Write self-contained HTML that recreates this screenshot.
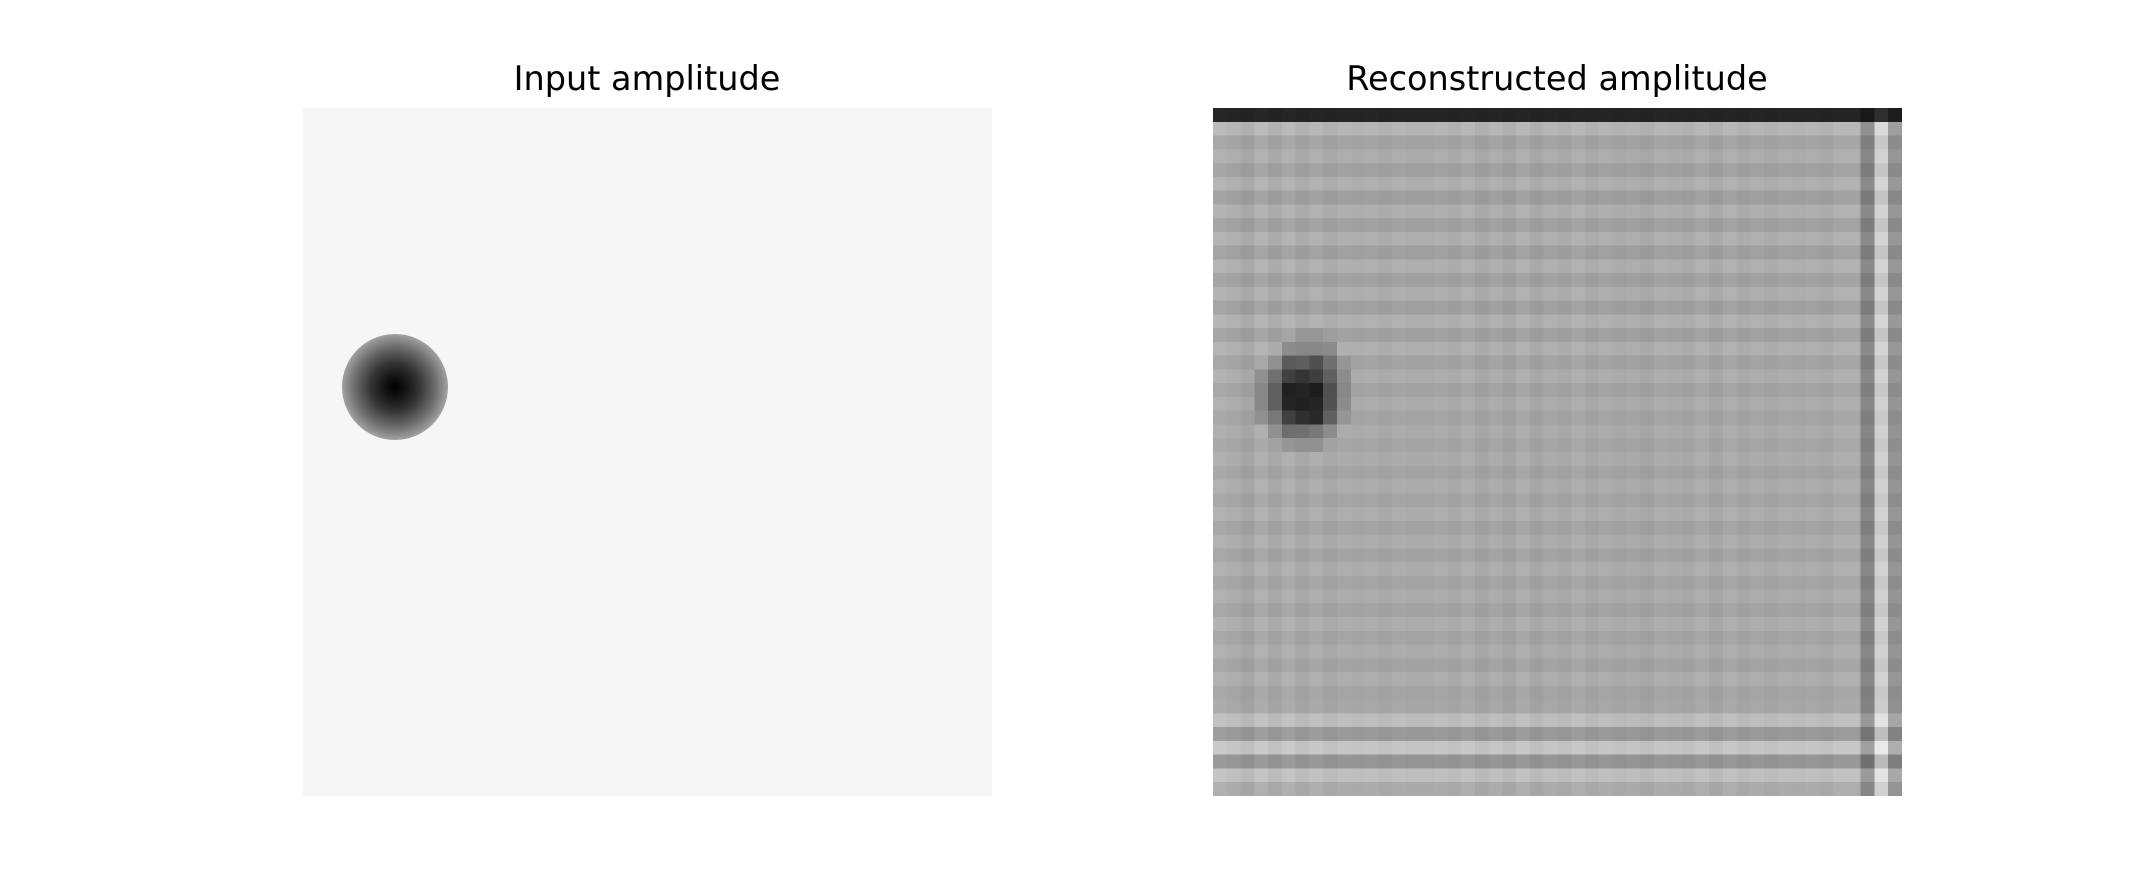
<!DOCTYPE html>
<html><head><meta charset="utf-8">
<style>
html,body{margin:0;padding:0;background:#fff;}
body{width:2152px;height:896px;position:relative;overflow:hidden;font-family:"DejaVu Sans","Liberation Sans",sans-serif;}
.title{position:absolute;font-size:33.5px;color:#000;text-align:center;width:800px;top:59px;}
#inp{position:absolute;left:303px;top:108px;width:689px;height:688px;background:#f6f6f6;}
#blob{position:absolute;width:106px;height:106px;border-radius:50%;
background:radial-gradient(circle at center,#000 0%,#101010 12%,#333 32%,#707070 55%,#b8b8b8 78%,#ebebeb 94%,#f6f6f6 100%);}
#rec{position:absolute;left:1213px;top:108px;width:689px;height:688px;}
</style></head>
<body>
<div class="title" style="left:247px">Input amplitude</div>
<div class="title" style="left:1157px">Reconstructed amplitude</div>
<div id="inp"><div id="blob" style="left:39px;top:226px"></div></div>
<svg id="rec" viewBox="0 0 50 50" preserveAspectRatio="none" shape-rendering="crispEdges"></svg>
<script>
const base = 168;
const rowOffsets = [-134,12,-6,4,-8,6,-10,5,-8,6,-9,6,-8,5,-9,7,-8,6,-6,4,-6,3,-5,2,-4,2,-5,3,-5,4,-6,3,-6,4,-5,3,-6,4,-5,3,-6,4,-5,-2,20,-16,28,-20,22,2];
const colOffsets = [6,2,-4,6,-2,6,-2,4,-2,2,0,2,-2,2,0,0,2,-2,4,-4,2,-4,4,-4,2,-2,4,-2,2,-2,0,-4,2,0,-2,4,-4,4,-2,2,-2,2,0,2,-2,4,4,-36,38,-22];
const patchRow0 = 16, patchCol0 = 3;
const patch = [
 [0,0,0,150,150,0,0,0],
 [0,0,140,136,136,140,0,0],
 [0,144,90,95,80,112,150,0],
 [144,112,64,52,62,96,140,0],
 [136,96,32,36,28,80,136,0],
 [136,96,36,32,36,82,140,0],
 [144,120,64,48,40,96,150,0],
 [0,144,110,112,120,140,0,0],
 [0,0,150,144,144,0,0,0]
];
const svg = document.getElementById('rec');
const NS = 'http://www.w3.org/2000/svg';
function clamp(v){return Math.max(0,Math.min(255,Math.round(v)));}
for(let r=0;r<rowOffsets.length;r++){
  for(let c=0;c<colOffsets.length;c++){
    let v = base + rowOffsets[r] + colOffsets[c];
    if(r===0) v = 36 + colOffsets[c]*0.3;
    const pr=r-patchRow0, pc=c-patchCol0;
    if(pr>=0&&pr<patch.length&&pc>=0&&pc<patch[0].length&&patch[pr][pc]) v = patch[pr][pc];
    const g = clamp(v);
    const rect = document.createElementNS(NS,'rect');
    rect.setAttribute('x',c);rect.setAttribute('y',r);
    rect.setAttribute('width',1.02);rect.setAttribute('height',1.02);
    rect.setAttribute('fill','rgb('+g+','+g+','+g+')');
    
    
    svg.appendChild(rect);
  }
}
</script>
</body></html>
